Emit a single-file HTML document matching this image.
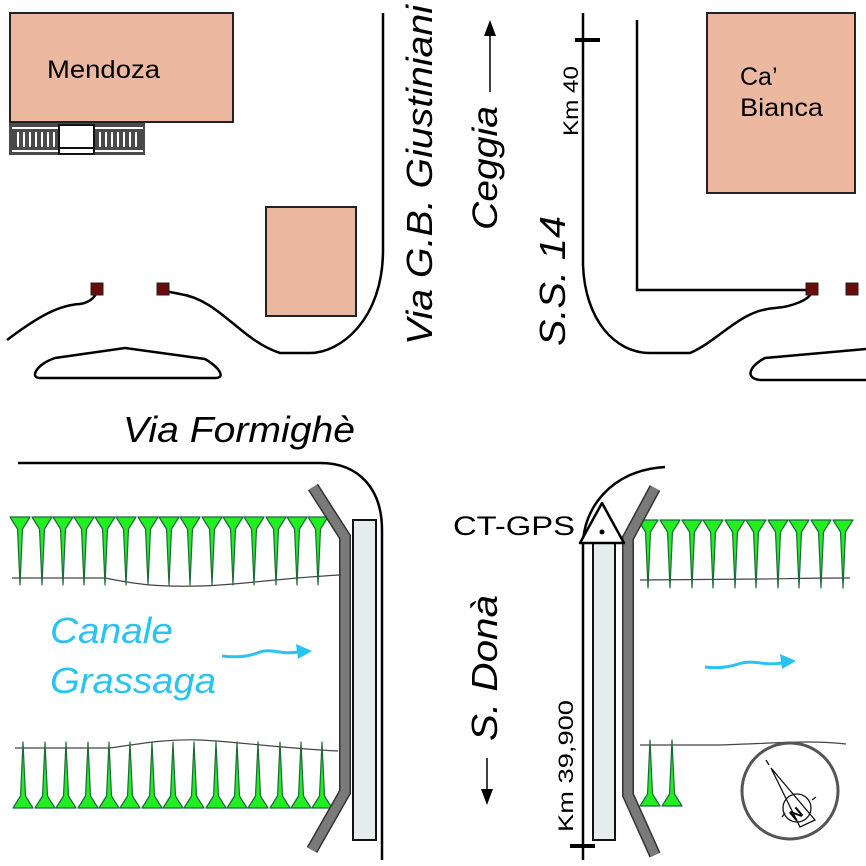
<!DOCTYPE html>
<html><head><meta charset="utf-8"><style>html,body{margin:0;padding:0;background:#fff}svg{display:block}text{font-family:"Liberation Sans",sans-serif}</style></head>
<body>
<svg width="866" height="866" viewBox="0 0 866 866" xmlns="http://www.w3.org/2000/svg">
<defs>
<polygon id="sd" points="-10,0 10,0 2.5,12 0,68 -2.5,12" fill="#22ee22" stroke="#1a6a3a" stroke-width="1.2" stroke-linejoin="round"/>
<polygon id="su" points="-10,0 10,0 2.5,-12 0,-66 -2.5,-12" fill="#22ee22" stroke="#1a6a3a" stroke-width="1.2" stroke-linejoin="round"/>
</defs>
<rect x="10" y="13" width="223" height="109" fill="#ecb9a0" stroke="#222" stroke-width="2"/>
<rect x="266" y="207" width="90" height="109" fill="#ecb9a0" stroke="#222" stroke-width="2"/>
<rect x="707" y="13" width="148" height="180" fill="#ecb9a0" stroke="#222" stroke-width="2"/>
<text x="47" y="78" font-size="25" textLength="113" lengthAdjust="spacingAndGlyphs">Mendoza</text>
<text x="740" y="85" font-size="25">Ca’</text>
<text x="740" y="116" font-size="25" textLength="83" lengthAdjust="spacingAndGlyphs">Bianca</text>
<rect x="9" y="123" width="136" height="32" fill="#4a4a4a"/>
<line x1="12" y1="128" x2="143" y2="128" stroke="#fff" stroke-width="2"/>
<line x1="12" y1="151" x2="143" y2="151" stroke="#fff" stroke-width="2"/>
<g stroke="#fff" stroke-width="2">
<line x1="18" y1="132" x2="18" y2="147"/><line x1="24" y1="132" x2="24" y2="147"/><line x1="30" y1="132" x2="30" y2="147"/><line x1="36" y1="132" x2="36" y2="147"/><line x1="42" y1="132" x2="42" y2="147"/><line x1="48" y1="132" x2="48" y2="147"/><line x1="54" y1="132" x2="54" y2="147"/>
<line x1="100" y1="132" x2="100" y2="147"/><line x1="106" y1="132" x2="106" y2="147"/><line x1="112" y1="132" x2="112" y2="147"/><line x1="118" y1="132" x2="118" y2="147"/><line x1="124" y1="132" x2="124" y2="147"/><line x1="130" y1="132" x2="130" y2="147"/><line x1="136" y1="132" x2="136" y2="147"/>
</g>
<rect x="59" y="125" width="35" height="29" fill="#fff" stroke="#111" stroke-width="2"/>
<line x1="59" y1="148" x2="94" y2="148" stroke="#111" stroke-width="2"/>
<g fill="none" stroke="#000" stroke-width="2.5">
<path d="M383,13 L383,250 C383,320 340,353 310,353 L280,353 C240,340 220,300 180,294 C170,292 163,291 163,289"/>
<path d="M7,340 C40,315 60,305 80,304 C92,302 97,295 97,289"/>
<path d="M55,358 L125,348 L205,359 C220,368 226,378 215,378 L40,378 C30,378 35,365 55,358 Z"/>
<path d="M583,13 L583,265 C585,320 615,353 650,353 L690,353 C720,340 740,310 775,308 C790,307 812,300 812,290"/>
<path d="M637,20 L637,290 L812,290"/>
<path d="M866,349 L765,358 C750,366 744,378 760,380 L866,380"/>
<path d="M18,463 L320,463 C360,463 382,490 382,530 L382,860"/>
<path d="M583,860 L583,545 C583,510 610,470 665,467"/>
</g>
<line x1="575" y1="40" x2="600" y2="40" stroke="#000" stroke-width="4"/>
<line x1="570" y1="846" x2="595" y2="846" stroke="#000" stroke-width="4"/>
<rect x="91" y="283" width="12" height="12" fill="#6b0a0a" stroke="#222"/>
<rect x="157" y="283" width="12" height="12" fill="#6b0a0a" stroke="#222"/>
<rect x="806" y="283" width="12" height="12" fill="#6b0a0a" stroke="#222"/>
<rect x="846" y="283" width="12" height="12" fill="#6b0a0a" stroke="#222"/>
<text transform="translate(432,345) rotate(-90)" font-size="36" font-style="italic" textLength="340" lengthAdjust="spacingAndGlyphs">Via G.B. Giustiniani</text>
<text transform="translate(497,230) rotate(-90)" font-size="35" font-style="italic" textLength="124" lengthAdjust="spacingAndGlyphs">Ceggia</text>
<line x1="490" y1="92" x2="490" y2="32" stroke="#000" stroke-width="1.5"/>
<polygon points="490,20 484,36 496,36" fill="#000"/>
<text transform="translate(578,136) rotate(-90)" font-size="21" textLength="70" lengthAdjust="spacingAndGlyphs">Km 40</text>
<text transform="translate(565,346) rotate(-90)" font-size="36" font-style="italic" textLength="130" lengthAdjust="spacingAndGlyphs">S.S. 14</text>
<text x="123" y="442" font-size="36" font-style="italic" textLength="232" lengthAdjust="spacingAndGlyphs">Via Formighè</text>
<text transform="translate(497,741) rotate(-90)" font-size="36" font-style="italic" textLength="146" lengthAdjust="spacingAndGlyphs">S. Donà</text>
<line x1="487" y1="758" x2="487" y2="792" stroke="#000" stroke-width="1.5"/>
<polygon points="487,805 481,789 493,789" fill="#000"/>
<text transform="translate(573,832) rotate(-90)" font-size="21" textLength="132" lengthAdjust="spacingAndGlyphs">Km 39,900</text>
<g fill="none" stroke="#444" stroke-width="1.2">
<path d="M12,578 L105,578 C140,585 160,587 200,586 C240,585 280,578 340,575"/>
<path d="M15,748 L110,748 C150,742 170,739 200,740 C240,742 280,748 338,751"/>
<path d="M640,580 L760,579 C780,579 800,578 850,578"/>
<path d="M640,745 L720,745 C780,743 810,740 846,744"/>
</g>
<g>
<use href="#sd" x="20" y="517"/><use href="#sd" x="42" y="517"/><use href="#sd" x="63" y="517"/><use href="#sd" x="84" y="517"/><use href="#sd" x="105" y="517"/><use href="#sd" x="126" y="517"/><use href="#sd" x="148" y="517"/><use href="#sd" x="169" y="517"/><use href="#sd" x="190" y="517"/><use href="#sd" x="212" y="517"/><use href="#sd" x="233" y="517"/><use href="#sd" x="254" y="517"/><use href="#sd" x="276" y="517"/><use href="#sd" x="297" y="517"/><use href="#sd" x="318" y="517"/>
<use href="#su" x="23" y="808"/><use href="#su" x="45" y="808"/><use href="#su" x="66" y="808"/><use href="#su" x="88" y="808"/><use href="#su" x="109" y="808"/><use href="#su" x="130" y="808"/><use href="#su" x="152" y="808"/><use href="#su" x="173" y="808"/><use href="#su" x="194" y="808"/><use href="#su" x="216" y="808"/><use href="#su" x="237" y="808"/><use href="#su" x="258" y="808"/><use href="#su" x="280" y="808"/><use href="#su" x="301" y="808"/><use href="#su" x="322" y="808"/>
<use href="#sd" x="648" y="520"/><use href="#sd" x="670" y="520"/><use href="#sd" x="692" y="520"/><use href="#sd" x="713" y="520"/><use href="#sd" x="735" y="520"/><use href="#sd" x="756" y="520"/><use href="#sd" x="778" y="520"/><use href="#sd" x="799" y="520"/><use href="#sd" x="821" y="520"/><use href="#sd" x="843" y="520"/>
<use href="#su" x="650" y="806"/><use href="#su" x="672" y="806"/>
</g>
<polyline points="313,487 345,537 345,792 312,850" fill="none" stroke="#333" stroke-width="12" stroke-linejoin="miter"/>
<polyline points="313,487 345,537 345,792 312,850" fill="none" stroke="#7a7a7a" stroke-width="9" stroke-linejoin="miter"/>
<rect x="353" y="520" width="23" height="320" fill="#e6ecec" stroke="#111" stroke-width="2"/>
<polyline points="655,488 628,538 628,795 655,855" fill="none" stroke="#333" stroke-width="12"/>
<polyline points="655,488 628,538 628,795 655,855" fill="none" stroke="#7a7a7a" stroke-width="9"/>
<rect x="593" y="540" width="22" height="300" fill="#e6ecec" stroke="#111" stroke-width="2"/>
<polygon points="602,503 580,543 624,543" fill="#fff" stroke="#000" stroke-width="2.5" stroke-linejoin="round"/>
<circle cx="602" cy="532" r="2.5" fill="#000"/>
<text x="453" y="535" font-size="27" textLength="122" lengthAdjust="spacingAndGlyphs">CT-GPS</text>
<text x="50" y="643" font-size="36" font-style="italic" fill="#29c3f2" textLength="123" lengthAdjust="spacingAndGlyphs">Canale</text>
<text x="50" y="693" font-size="36" font-style="italic" fill="#29c3f2" textLength="166" lengthAdjust="spacingAndGlyphs">Grassaga</text>
<path d="M222,656 C240,658 250,656 260,652 C272,648 280,655 298,652" fill="none" stroke="#29c3f2" stroke-width="3"/>
<polygon points="312,651 296,644 298,659" fill="#29c3f2"/>
<path d="M705,667 C722,669 732,666 742,663 C755,660 765,666 782,663" fill="none" stroke="#29c3f2" stroke-width="3"/>
<polygon points="796,661 780,654 782,669" fill="#29c3f2"/>
<circle cx="790" cy="791" r="48" fill="none" stroke="#555" stroke-width="3"/>
<g stroke="#111" stroke-width="1.3" fill="none">
<polygon points="771,768 815,820 800,827"/>
<circle cx="797" cy="808" r="14"/>
<line x1="766" y1="760" x2="769" y2="765"/>
<line x1="812" y1="800" x2="816" y2="797"/>
<line x1="782" y1="817" x2="785" y2="813"/>
</g>
<text x="788" y="818" font-size="16" font-weight="bold" transform="rotate(-40 797 810)">N</text>
</svg>
</body></html>
